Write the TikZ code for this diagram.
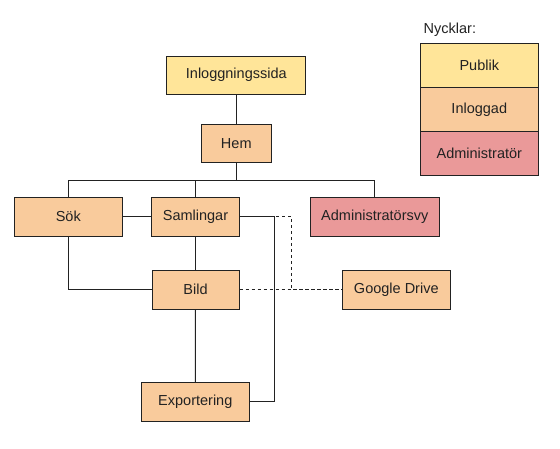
\documentclass[tikz,border=0pt]{standalone}
\usepackage{fontspec}
\setmainfont{Liberation Sans}
\usepackage{xcolor}
\usetikzlibrary{positioning}
\definecolor{publik}{HTML}{FFE599}
\definecolor{inloggad}{HTML}{F9CB9C}
\definecolor{admin}{HTML}{EA9999}
\definecolor{kant}{HTML}{222222}

\begin{document}
\begin{tikzpicture}[x=1pt,y=-1pt,
    box/.style={draw=kant, line width=1pt, minimum height=38pt, inner sep=0pt,
        font=\fontsize{14.5}{16}\selectfont, text=kant},
    link/.style={draw=kant, line width=1pt}]
    \useasboundingbox (0,0) rectangle (560,449);
    % Sidor
    \node[box, fill=publik, minimum width=139pt] (inlogg) at (236.3,75.2) {Inloggningssida};
    \node[box, fill=inloggad, minimum width=70pt] (hem) at (236.3,143.3) {Hem};
    \node[box, fill=inloggad, minimum width=108pt, minimum height=39pt] (sok) at (68.3,216.8) {Sök};
    \node[box, fill=inloggad, minimum width=88pt, minimum height=39pt] (saml) at (195.5,216.8) {Samlingar};
    \node[box, fill=admin, minimum width=129pt, minimum height=39pt] (adm) at (374.8,216.8) {Administratörsvy};
    \node[box, fill=inloggad, minimum width=87pt, minimum height=39pt] (bild) at (195.5,289.7) {Bild};
    \node[box, fill=inloggad, minimum width=108pt, minimum height=39pt] (gd) at (396.3,289.7) {Google Drive};
    \node[box, fill=inloggad, minimum width=108pt, minimum height=39pt] (exp) at (195.3,401.8) {Exportering};
    % Nycklar
    \node[font=\fontsize{14.5}{16}\selectfont, text=kant, anchor=west, inner sep=0pt] (nyck) at (423.5,30) {Nycklar:};
    \node[box, fill=publik, minimum width=118pt, minimum height=44pt] (kpub) at (479.3,65.5) {Publik};
    \node[box, fill=inloggad, minimum width=118pt, minimum height=44pt] (kinl) at (479.3,109.4) {Inloggad};
    \node[box, fill=admin, minimum width=118pt, minimum height=44pt] (kadm) at (479.3,153.3) {Administratör};
    % Kopplingar
    \coordinate (k1) at (274.3,216.8);
    \coordinate (k2) at (291.3,216.8);
    \draw[link] (inlogg) -- (hem);
    \draw[link] (hem.south) -- ++(0,18) coordinate (buss) -| (sok.north);
    \draw[link] (buss) -| (saml.north);
    \draw[link] (buss) -| (adm.north);
    \draw[link] (sok) -- (saml);
    \draw[link] (sok.south) |- (bild.west);
    \draw[link] (saml) -- (bild);
    \draw[link] (bild) -- (exp);
    \draw[link, dashed] (saml.east) -- (k2) |- (gd.west);
    \draw[link, dashed] (bild) -- (gd);
    \draw[link] (exp.east) -| (k1) -- (saml.east);
\end{tikzpicture}
\end{document}
